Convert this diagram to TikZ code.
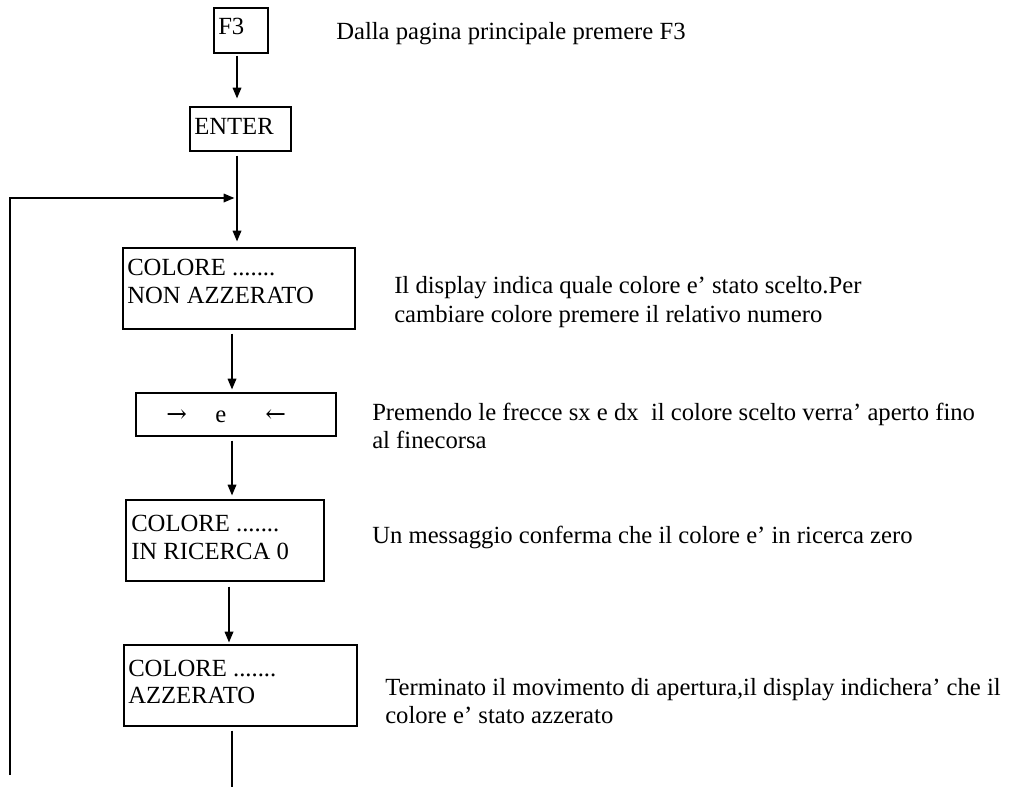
\documentclass[tikz,border=0pt]{standalone}
\usepackage{fontspec}
\setmainfont{Liberation Serif}
\newfontfamily\arrowfont{DejaVu Serif}
\usetikzlibrary{arrows.meta,fit}

\tikzset{
  box/.style={draw, line width=0.9pt, inner sep=0pt},
  txt/.style={anchor=base west, inner sep=0pt, font=\fontsize{18.5pt}{22pt}\selectfont},
  link/.style={line width=0.9pt},
  arr/.style={link, -{Triangle[length=8pt, width=6.5pt]}}
}

\begin{document}
\begin{tikzpicture}[x=0.75pt, y=-0.75pt]
\useasboundingbox (0,0) rectangle (1016,788);

% vertical guide lines for the connectors
\coordinate (s1) at (237,0);
\coordinate (s2) at (232,0);
\coordinate (s3) at (229,0);

% boxes
\node[box, fit={(214,8) (268,53)}]    (f3)    {};
\node[box, fit={(190,107) (291,151)}] (enter) {};
\node[box, fit={(123,248) (355,329)}] (nonaz) {};
\node[box, fit={(136,393) (336,436)}] (keys)  {};
\node[box, fit={(126,500) (324,581)}] (ric)   {};
\node[box, fit={(124,645) (357,726)}] (az)    {};

% box texts
\node[txt] (tf3)  at (218,35)  {F3};
\node[txt] (tent) at (194,135) {ENTER};
\node[txt] (tn1)  at (127,275) {COLORE .......};
\node[txt] (tn2)  at (127,303) {NON AZZERATO};
\node[txt] (tk1)  at (166,422) {\arrowfont →};
\node[txt] (tk2)  at (215,422) {e};
\node[txt] (tk3)  at (265,422) {\arrowfont ←};
\node[txt] (tr1)  at (131,531) {COLORE .......};
\node[txt] (tr2)  at (131,559) {IN RICERCA 0};
\node[txt] (ta1)  at (128,676) {COLORE .......};
\node[txt] (ta2)  at (128,703) {AZZERATO};

% descriptions
\node[txt] (d1)  at (336,40)  {Dalla pagina principale premere F3};
\node[txt] (d2a) at (394,293) {Il display indica quale colore e’ stato scelto.Per};
\node[txt] (d2b) at (394,322) {cambiare colore premere il relativo numero};
\node[txt] (d3a) at (372,420) {Premendo le frecce sx e dx\ \ il colore scelto verra’ aperto fino};
\node[txt] (d3b) at (372,448) {al finecorsa};
\node[txt] (d4)  at (372,543) {Un messaggio conferma che il colore e’ in ricerca zero};
\node[txt] (d5a) at (385,695) {Terminato il movimento di apertura,il display indichera’ che il};
\node[txt] (d5b) at (385,723) {colore e’ stato azzerato};

% connectors
\draw[arr, shorten <=1.5pt, shorten >=6pt]    (f3.south -| s1)    -- (enter.north -| s1);
\draw[arr, shorten <=3pt,   shorten >=4.5pt]  (enter.south -| s1) -- (nonaz.north -| s1);
\draw[arr, shorten <=3pt,   shorten >=2.25pt] (nonaz.south -| s2) -- (keys.north -| s2);
\draw[arr, shorten <=3pt,   shorten >=3pt]    (keys.south -| s2)  -- (ric.north -| s2);
\draw[arr, shorten <=3.75pt, shorten >=1.5pt] (ric.south -| s3)   -- (az.north -| s3);

\coordinate (tail) at (232,787);
\draw[link, shorten <=3pt] (az.south -| s2) -- (tail);

% return line on the left
\coordinate (loopend) at (10,775);
\coordinate (join) at (237,198);
\draw[arr, shorten >=2pt] (loopend) |- (join);
\end{tikzpicture}
\end{document}
